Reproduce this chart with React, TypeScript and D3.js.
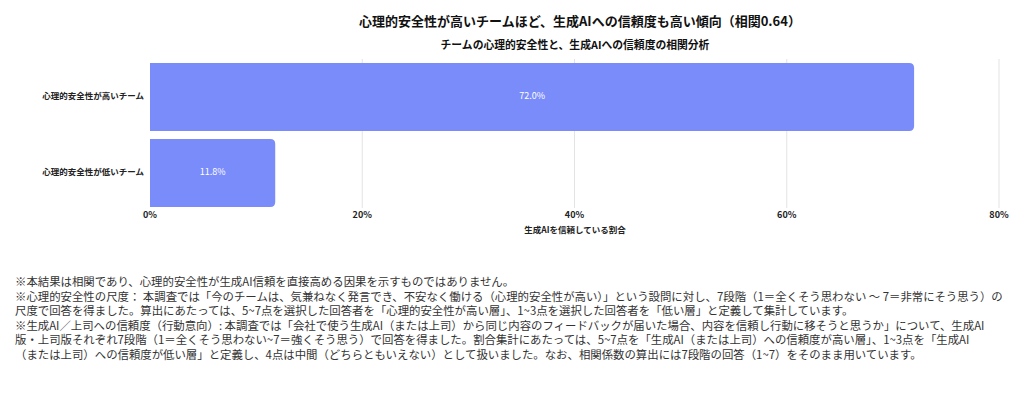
import { useRef, useEffect } from 'react';
import * as d3 from 'd3';

const categories = ['心理的安全性が高いチーム', '心理的安全性が低いチーム'];
const values = [72.0, 11.8];
const xTicks = [0, 20, 40, 60, 80];

const title = '心理的安全性が高いチームほど、生成AIへの信頼度も高い傾向（相関0.64）';
const subtitle = 'チームの心理的安全性と、生成AIへの信頼度の相関分析';
const xAxisTitle = '生成AIを信頼している割合';

const notes = [
  '※本結果は相関であり、心理的安全性が生成AI信頼を直接高める因果を示すものではありません。',
  '※心理的安全性の尺度： 本調査では「今のチームは、気兼ねなく発言でき、不安なく働ける（心理的安全性が高い）」という設問に対し、7段階（1＝全くそう思わない ～ 7＝非常にそう思う）の',
  '尺度で回答を得ました。算出にあたっては、5~7点を選択した回答者を「心理的安全性が高い層」、1~3点を選択した回答者を「低い層」と定義して集計しています。',
  '※生成AI／上司への信頼度（行動意向）: 本調査では「会社で使う生成AI（または上司）から同じ内容のフィードバックが届いた場合、内容を信頼し行動に移そうと思うか」について、生成AI',
  '版・上司版それぞれ7段階（1＝全くそう思わない~7＝強くそう思う）で回答を得ました。割合集計にあたっては、5~7点を「生成AI（または上司）への信頼度が高い層」、1~3点を「生成AI',
  '（または上司）への信頼度が低い層」と定義し、4点は中間（どちらともいえない）として扱いました。なお、相関係数の算出には7段階の回答（1~7）をそのまま用いています。',
];

const W = 1024;
const H = 419;
const FONT = '"Noto Sans CJK JP", "Noto Sans", sans-serif';
const BAR_COLOR = '#7a8cf9';

export default function App() {
  const svgRef = useRef<SVGSVGElement>(null);

  useEffect(() => {
    document.body.style.margin = '0';
    if (!svgRef.current) return;
    const svg = d3.select(svgRef.current);
    svg.selectAll('*').remove();

    const x = d3.scaleLinear().domain([0, 80]).range([150, 999]);
    const y = d3
      .scaleBand<string>()
      .domain(categories)
      .range([59, 211])
      .paddingInner(0.105)
      .paddingOuter(0.053);

    svg.append('rect').attr('width', W).attr('height', H).attr('fill', '#ffffff');

    // Titles
    svg
      .append('text')
      .attr('x', 580)
      .attr('y', 22)
      .attr('text-anchor', 'middle')
      .attr('dominant-baseline', 'middle')
      .attr('font-size', '13px')
      .attr('font-weight', '700')
      .attr('fill', '#111')
      .text(title);

    svg
      .append('text')
      .attr('x', 575)
      .attr('y', 46)
      .attr('text-anchor', 'middle')
      .attr('dominant-baseline', 'middle')
      .attr('font-size', '10.8px')
      .attr('font-weight', '700')
      .attr('fill', '#111')
      .text(subtitle);

    // Grid lines
    svg
      .append('g')
      .selectAll('line')
      .data(xTicks.slice(1))
      .join('line')
      .attr('x1', (d) => x(d))
      .attr('x2', (d) => x(d))
      .attr('y1', 59)
      .attr('y2', 208)
      .attr('stroke', '#e3e3e3')
      .attr('stroke-width', 1);

    // Bars (rounded right corners)
    const r = 5;
    const barPath = (v: number, cat: string) => {
      const x0 = x(0);
      const x1 = x(v);
      const y0 = y(cat)!;
      const y1 = y0 + y.bandwidth();
      const p = d3.path();
      p.moveTo(x0, y0);
      p.lineTo(x1 - r, y0);
      p.quadraticCurveTo(x1, y0, x1, y0 + r);
      p.lineTo(x1, y1 - r);
      p.quadraticCurveTo(x1, y1, x1 - r, y1);
      p.lineTo(x0, y1);
      p.closePath();
      return p.toString();
    };

    svg
      .append('g')
      .selectAll('path')
      .data(categories)
      .join('path')
      .attr('d', (c, i) => barPath(values[i], c))
      .attr('fill', BAR_COLOR);

    // Value labels
    svg
      .append('g')
      .selectAll('text')
      .data(categories)
      .join('text')
      .attr('x', (c, i) => x(values[i] / 2))
      .attr('y', (c) => y(c)! + y.bandwidth() / 2)
      .attr('text-anchor', 'middle')
      .attr('dominant-baseline', 'middle')
      .attr('font-size', '9px')
      .attr('fill', '#ffffff')
      .text((c, i) => `${values[i].toFixed(1)}%`);

    // Category labels
    svg
      .append('g')
      .selectAll('text')
      .data(categories)
      .join('text')
      .attr('x', 144)
      .attr('y', (c) => y(c)! + y.bandwidth() / 2)
      .attr('text-anchor', 'end')
      .attr('dominant-baseline', 'middle')
      .attr('font-size', '8.5px')
      .attr('font-weight', '700')
      .attr('fill', '#222')
      .text((c) => c);

    // X tick labels
    svg
      .append('g')
      .selectAll('text')
      .data(xTicks)
      .join('text')
      .attr('x', (d) => x(d))
      .attr('y', 216)
      .attr('text-anchor', 'middle')
      .attr('dominant-baseline', 'middle')
      .attr('font-size', '9px')
      .attr('font-weight', '700')
      .attr('fill', '#222')
      .text((d) => `${d}%`);

    svg
      .append('text')
      .attr('x', 575)
      .attr('y', 231)
      .attr('text-anchor', 'middle')
      .attr('dominant-baseline', 'middle')
      .attr('font-size', '8.5px')
      .attr('font-weight', '700')
      .attr('fill', '#222')
      .text(xAxisTitle);

    // Footnotes
    svg
      .append('g')
      .selectAll('text')
      .data(notes)
      .join('text')
      .attr('x', 15)
      .attr('y', (d, i) => 283 + i * 14.5)
      .attr('dominant-baseline', 'middle')
      .attr('font-size', '11.4px')
      .attr('fill', '#333')
      .text((d) => d);
  }, []);

  return (
    <svg
      ref={svgRef}
      width={W}
      height={H}
      viewBox={`0 0 ${W} ${H}`}
      style={{ display: 'block', fontFamily: FONT }}
    />
  );
}
